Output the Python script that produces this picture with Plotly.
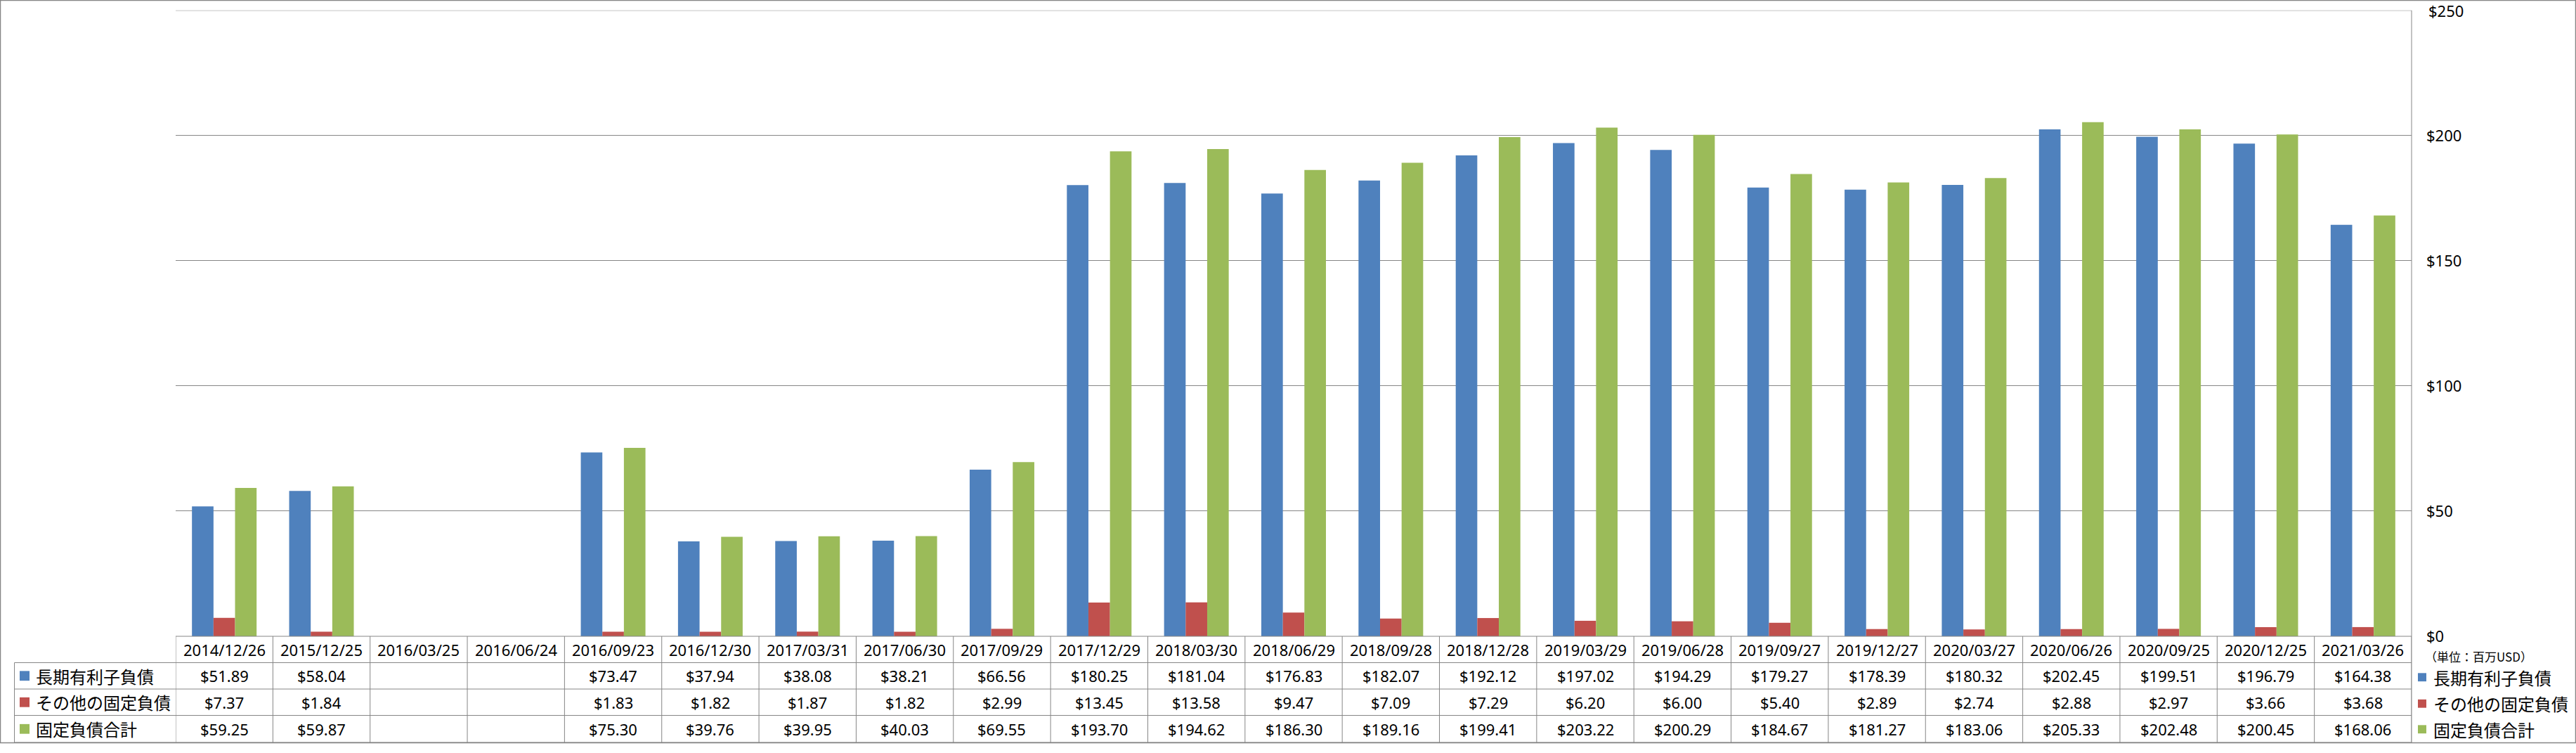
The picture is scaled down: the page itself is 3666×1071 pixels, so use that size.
import plotly.graph_objects as go

categories = ["2014/12/26", "2015/12/25", "2016/03/25", "2016/06/24", "2016/09/23",
              "2016/12/30", "2017/03/31", "2017/06/30", "2017/09/29", "2017/12/29",
              "2018/03/30", "2018/06/29", "2018/09/28", "2018/12/28", "2019/03/29",
              "2019/06/28", "2019/09/27", "2019/12/27", "2020/03/27", "2020/06/26",
              "2020/09/25", "2020/12/25", "2021/03/26"]
long_term_debt = [51.89, 58.04, None, None, 73.47, 37.94, 38.08, 38.21, 66.56, 180.25,
                  181.04, 176.83, 182.07, 192.12, 197.02, 194.29, 179.27, 178.39, 180.32,
                  202.45, 199.51, 196.79, 164.38]
other_fixed = [7.37, 1.84, None, None, 1.83, 1.82, 1.87, 1.82, 2.99, 13.45,
               13.58, 9.47, 7.09, 7.29, 6.20, 6.00, 5.40, 2.89, 2.74,
               2.88, 2.97, 3.66, 3.68]
total_fixed = [59.25, 59.87, None, None, 75.30, 39.76, 39.95, 40.03, 69.55, 193.70,
               194.62, 186.30, 189.16, 199.41, 203.22, 200.29, 184.67, 181.27, 183.06,
               205.33, 202.48, 200.45, 168.06]
series_names = ["長期有利子負債", "その他の固定負債", "固定負債合計"]
series_values = [long_term_debt, other_fixed, total_fixed]
colors = ["#4F81BD", "#C0504D", "#9BBB59"]
y_ticks = [0, 50, 100, 150, 200, 250]
unit_label = "（単位：百万USD）"

W, H = 3666, 1071
def px(x):
    return x / W
def py(y):
    return 1 - y / H

GRID = "#868686"
LATIN = "Noto Sans"
CJK = "Noto Sans CJK JP"
Y_MAX = y_ticks[-1]

fig = go.Figure()
for name, vals, c in zip(series_names, series_values, colors):
    fig.add_trace(go.Bar(x=categories, y=vals, name=name, marker_color=c,
                         marker_line_width=0, hoverinfo="skip"))

fig.update_layout(
    width=W, height=H, autosize=False,
    margin=dict(l=0, r=0, t=0, b=0, pad=0),
    barmode="group", bargap=0.335, bargroupgap=0,
    showlegend=False, plot_bgcolor="white", paper_bgcolor="white",
)
fig.update_xaxes(domain=[px(250), px(3432)], type="category", range=[-0.5, len(categories) - 0.5],
                 showticklabels=False, showgrid=False, ticks="", showline=False, zeroline=False)
fig.update_yaxes(domain=[py(917), py(15)], range=[0, Y_MAX], side="right",
                 tickvals=y_ticks[:-1], ticktext=[f"${v}" for v in y_ticks[:-1]],
                 showgrid=True, gridcolor=GRID, gridwidth=1, zeroline=False, showline=False,
                 ticks="", ticklabelstandoff=20,
                 tickfont=dict(family=LATIN, size=22, color="black"))

shapes = []
def hline(y, x0, x1):
    shapes.append(dict(type="line", xref="paper", yref="paper", x0=px(x0), x1=px(x1),
                       y0=py(y), y1=py(y), line=dict(color=GRID, width=1)))
def vline(x, y0, y1):
    shapes.append(dict(type="line", xref="paper", yref="paper", x0=px(x), x1=px(x),
                       y0=py(y0), y1=py(y1), line=dict(color=GRID, width=1)))

# top gridline at the axis maximum
shapes.append(dict(type="line", xref="paper", yref="y", x0=px(250), x1=px(3432),
                   y0=Y_MAX, y1=Y_MAX, line=dict(color=GRID, width=1)))
# outer chart border
shapes.append(dict(type="rect", xref="paper", yref="paper", x0=px(0.5), x1=px(3665.5),
                   y0=py(1070.5), y1=py(0.5), line=dict(color=GRID, width=1.5)))
# right plot border
vline(3432, 15, 1070)
# table lines
row_edges = [917, 955, 993, 1031, 1070]
hline(917, 250, 3432)
for y in row_edges[1:]:
    hline(y, 20.5, 3432)
vline(20.5, 955, 1070)
for i in range(len(categories) + 1):
    shapes.append(dict(type="line", xref="x", yref="paper", x0=i - 0.5, x1=i - 0.5,
                       y0=py(917), y1=py(1070), line=dict(color=GRID, width=1)))

ann = []
# top tick label
ann.append(dict(x=px(3454), y=Y_MAX, xref="paper", yref="y", text=f"${Y_MAX}",
                showarrow=False, font=dict(family=LATIN, size=22, color="black"),
                xanchor="left", yanchor="middle"))
row_centers = [(row_edges[k] + row_edges[k + 1]) / 2 for k in range(4)]
for i, cat in enumerate(categories):
    ann.append(dict(x=i, y=py(row_centers[0]), xref="x", yref="paper", text=cat,
                    showarrow=False, font=dict(family=LATIN, size=22, color="black"),
                    xanchor="center", yanchor="middle"))
    for k, vals in enumerate(series_values):
        v = vals[i]
        if v is None:
            continue
        ann.append(dict(x=i, y=py(row_centers[k + 1]), xref="x", yref="paper",
                        text=f"${v:.2f}", showarrow=False,
                        font=dict(family=LATIN, size=22, color="black"),
                        xanchor="center", yanchor="middle"))

# left legend keys in the table
for k, (name, c) in enumerate(zip(series_names, colors)):
    yc = row_centers[k + 1]
    shapes.append(dict(type="rect", xref="paper", yref="paper", x0=px(28), x1=px(42),
                       y0=py(yc + 7), y1=py(yc - 7), fillcolor=c, line=dict(width=0)))
    ann.append(dict(x=px(49), y=py(yc), xref="paper", yref="paper", text=name,
                    showarrow=False, font=dict(family=CJK, size=24, color="black"),
                    xanchor="left", yanchor="middle"))

# right legend
ann.append(dict(x=px(3449), y=py(946), xref="paper", yref="paper", text=unit_label,
                showarrow=False, font=dict(family=CJK, size=17, color="black"),
                xanchor="left", yanchor="middle"))
right_centers = [976, 1014, 1051]
for k, (name, c) in enumerate(zip(series_names, colors)):
    yc = right_centers[k]
    shapes.append(dict(type="rect", xref="paper", yref="paper", x0=px(3441), x1=px(3453),
                       y0=py(yc + 6), y1=py(yc - 6), fillcolor=c, line=dict(width=0)))
    ann.append(dict(x=px(3461), y=py(yc), xref="paper", yref="paper", text=name,
                    showarrow=False, font=dict(family=CJK, size=24, color="black"),
                    xanchor="left", yanchor="middle"))

fig.update_layout(shapes=shapes, annotations=ann)
fig.write_html("out.html")
